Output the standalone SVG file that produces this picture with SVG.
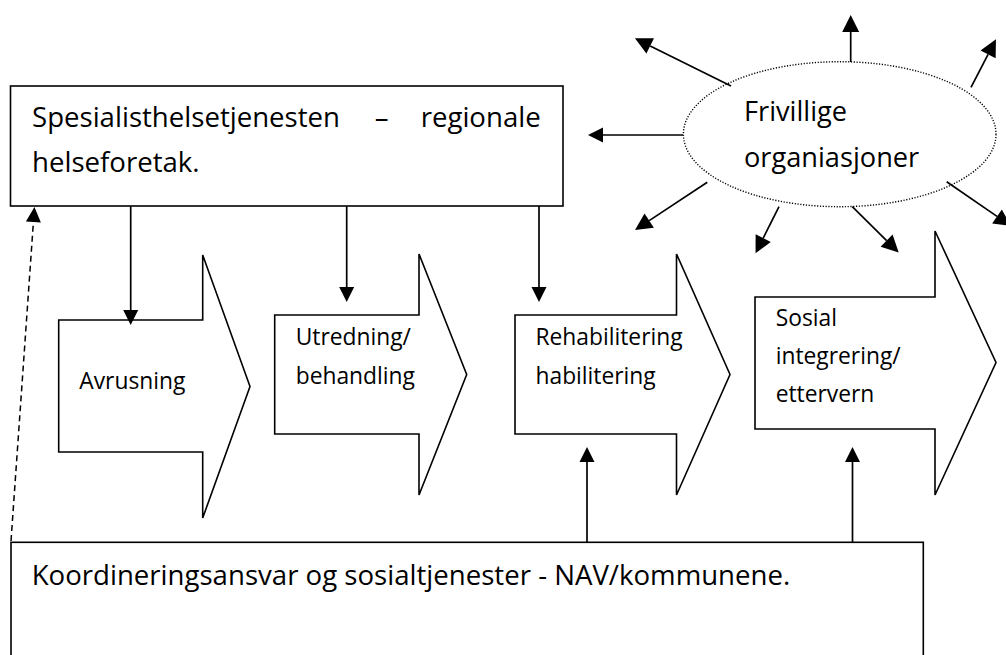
<svg xmlns="http://www.w3.org/2000/svg" width="1006" height="655" viewBox="0 0 1006 655">
<style>
.box{fill:#fff;stroke:#000;stroke-width:1.6}
.ell{fill:#fff;stroke:#000;stroke-width:1.4;stroke-dasharray:1.2 1.6}
.big{font-family:"Open Sans","Liberation Sans",sans-serif;font-size:27.6px;fill:#000}
.small{font-family:"Open Sans","Liberation Sans",sans-serif;font-size:22.8px;fill:#000}
.con{fill:none;stroke:#000;stroke-width:1.7}
.dash{stroke-width:1.5;stroke-dasharray:6 4}
</style>
<defs>
<marker id="ah" markerUnits="userSpaceOnUse" markerWidth="16" markerHeight="16" refX="0" refY="7.5" orient="auto" overflow="visible">
<path d="M0,0 L15,7.5 L0,15 Z" fill="#000"/>
</marker>
<marker id="ah2" markerUnits="userSpaceOnUse" markerWidth="18" markerHeight="18" refX="0" refY="8.5" orient="auto" overflow="visible">
<path d="M0,0 L17,8.5 L0,17 Z" fill="#000"/>
</marker>
</defs>

<g id="spesialist">
<rect class="box" x="10.5" y="86" width="552.5" height="120"/>
<text class="big" x="32" y="127">Spesialisthelsetjenesten</text>
<text class="big" x="381.7" y="127" text-anchor="middle">–</text>
<text class="big" x="540.7" y="127" text-anchor="end">regionale</text>
<text class="big" x="32" y="171.5">helseforetak.</text>
</g>

<g id="frivillige">
<ellipse class="ell" cx="839.7" cy="134.2" rx="156.3" ry="72.5"/>
<text class="big" x="744" y="120.5" style="font-size:27.2px">Frivillige</text>
<text class="big" x="744" y="166.5" style="font-size:27.2px">organiasjoner</text>
</g>

<g id="avrusning">
<path class="box" d="M58.7,320 H202.7 V255 L250,386.5 L202.7,518 V452 H58.7 Z"/>
<text class="small" x="79.3" y="389">Avrusning</text>
</g>

<g id="utredning">
<path class="box" d="M274.7,315 H419 V254 L466.7,374.5 L419,495 V434 H274.7 Z"/>
<text class="small" x="295.7" y="345">Utredning/</text>
<text class="small" x="295.7" y="384">behandling</text>
</g>

<g id="rehabilitering">
<path class="box" d="M515,315 H676.5 V254 L730,374.5 L676.5,495 V434 H515 Z"/>
<text class="small" x="535.5" y="345">Rehabilitering</text>
<text class="small" x="535.5" y="384">habilitering</text>
</g>

<g id="sosial">
<path class="box" d="M755,297 H935 V231 L996,362.5 L935,495 V429 H755 Z"/>
<text class="small" x="775.7" y="326">Sosial</text>
<text class="small" x="775.7" y="364">integrering/</text>
<text class="small" x="775.7" y="402">ettervern</text>
</g>

<g id="koordinering">
<rect class="box" x="11" y="542.3" width="912.3" height="160"/>
<text class="big" x="31.7" y="585">Koordineringsansvar og sosialtjenester - NAV/kommunene.</text>
</g>

<g id="connectors">
<line class="con" x1="130.7" y1="206" x2="130.7" y2="310" marker-end="url(#ah)"/>
<line class="con" x1="346.7" y1="206" x2="346.7" y2="287" marker-end="url(#ah)"/>
<line class="con" x1="539" y1="206" x2="539" y2="287" marker-end="url(#ah)"/>
<line class="con" x1="587" y1="542" x2="587" y2="462" marker-end="url(#ah)"/>
<line class="con" x1="852.5" y1="542" x2="852.5" y2="462" marker-end="url(#ah)"/>
<line class="con dash" x1="11" y1="541" x2="33.4" y2="222" marker-end="url(#ah)"/>
<line class="con" x1="683" y1="135" x2="603" y2="135" marker-end="url(#ah)"/>
<line class="con" x1="850.7" y1="62" x2="850.7" y2="32" marker-end="url(#ah2)"/>
<line class="con" x1="731" y1="86" x2="650.2" y2="45.9" marker-end="url(#ah2)"/>
<line class="con" x1="971" y1="87.3" x2="988.1" y2="54.4" marker-end="url(#ah2)"/>
<line class="con" x1="707.3" y1="182.3" x2="649.2" y2="220.6" marker-end="url(#ah2)"/>
<line class="con" x1="779" y1="206.7" x2="763.2" y2="238.1" marker-end="url(#ah2)"/>
<line class="con" x1="852.3" y1="206.7" x2="886.6" y2="240.6" marker-end="url(#ah2)"/>
<line class="con" x1="946.7" y1="181.7" x2="997" y2="216.4" marker-end="url(#ah2)"/>
</g>
</svg>
